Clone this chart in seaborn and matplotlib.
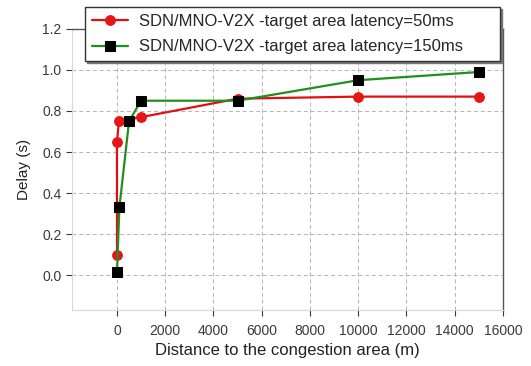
import matplotlib
matplotlib.use("Agg")
import matplotlib.pyplot as plt
import seaborn as sns
import pandas as pd

sns.set_theme(style="white")
plt.rcParams['font.family'] = ['Liberation Sans', 'DejaVu Sans']

label_50 = "SDN/MNO-V2X -target area latency=50ms"
label_150 = "SDN/MNO-V2X -target area latency=150ms"

dist_50 = [0, 0, 80, 1000, 5000, 10000, 15000]
delay_50 = [0.10, 0.65, 0.75, 0.77, 0.86, 0.87, 0.87]

dist_150 = [0, 100, 500, 1000, 5000, 10000, 15000]
delay_150 = [0.015, 0.33, 0.75, 0.85, 0.85, 0.95, 0.99]

x_ticks = [0, 2000, 4000, 6000, 8000, 10000, 12000, 14000, 16000]
y_ticks = [0.0, 0.2, 0.4, 0.6, 0.8, 1.0, 1.2]

df50 = pd.DataFrame({"x": dist_50, "y": delay_50})
df150 = pd.DataFrame({"x": dist_150, "y": delay_150})

fig = plt.figure(figsize=(5.31, 3.66), dpi=100)
ax = fig.add_axes([0.1356, 0.153, 0.8114, 0.768])

sns.lineplot(data=df50, x="x", y="y", ax=ax, estimator=None, sort=False,
             color="#e01010", lw=1.6, marker="o", markersize=7,
             markerfacecolor="#e81515", markeredgecolor="#e81515",
             label=label_50, zorder=3)
sns.lineplot(data=df150, x="x", y="y", ax=ax, estimator=None, sort=False,
             color="#1f8f1f", lw=1.6, marker="s", markersize=6.5,
             markerfacecolor="black", markeredgecolor="black",
             label=label_150, zorder=4)

ax.set_xlim(-1865, 16000)
ax.set_ylim(-0.17, 1.2)
ax.set_xticks(x_ticks)
ax.set_yticks(y_ticks)
ax.set_xticklabels([str(v) for v in x_ticks])
ax.set_yticklabels([f"{v:.1f}" for v in y_ticks])
ax.grid(True, color="#b4b4b4", lw=0.7, ls=(0, (4, 3)))
ax.tick_params(axis="both", labelsize=10, colors="#3a3a3a", length=4,
               direction="out", bottom=True, left=True, width=0.8)
ax.tick_params(axis="x", pad=6)

for s in ["top", "right"]:
    ax.spines[s].set_color("#555555")
    ax.spines[s].set_linewidth(1.0)
for s in ["left", "bottom"]:
    ax.spines[s].set_color("#d8d8d8")
    ax.spines[s].set_linewidth(0.8)

ax.set_xlabel("Distance to the congestion area (m)", fontsize=12, color="#222222", labelpad=4)
ax.set_ylabel("Delay (s)", fontsize=11, color="#222222", labelpad=8)

leg = ax.legend(loc="upper left", bbox_to_anchor=(0.030, 1.078, 0.963, 0.0),
                mode="expand", borderaxespad=0.0, fontsize=12,
                frameon=True, fancybox=False, edgecolor="#333333",
                borderpad=0.4, handlelength=2.2, labelspacing=0.65,
                handletextpad=0.65,
                shadow={"ox": 1.5, "oy": -1.5, "color": "#777777", "alpha": 1.0})
leg.get_frame().set_linewidth(1.0)
leg.set_zorder(10)

fig.savefig("out.png", dpi=100)
